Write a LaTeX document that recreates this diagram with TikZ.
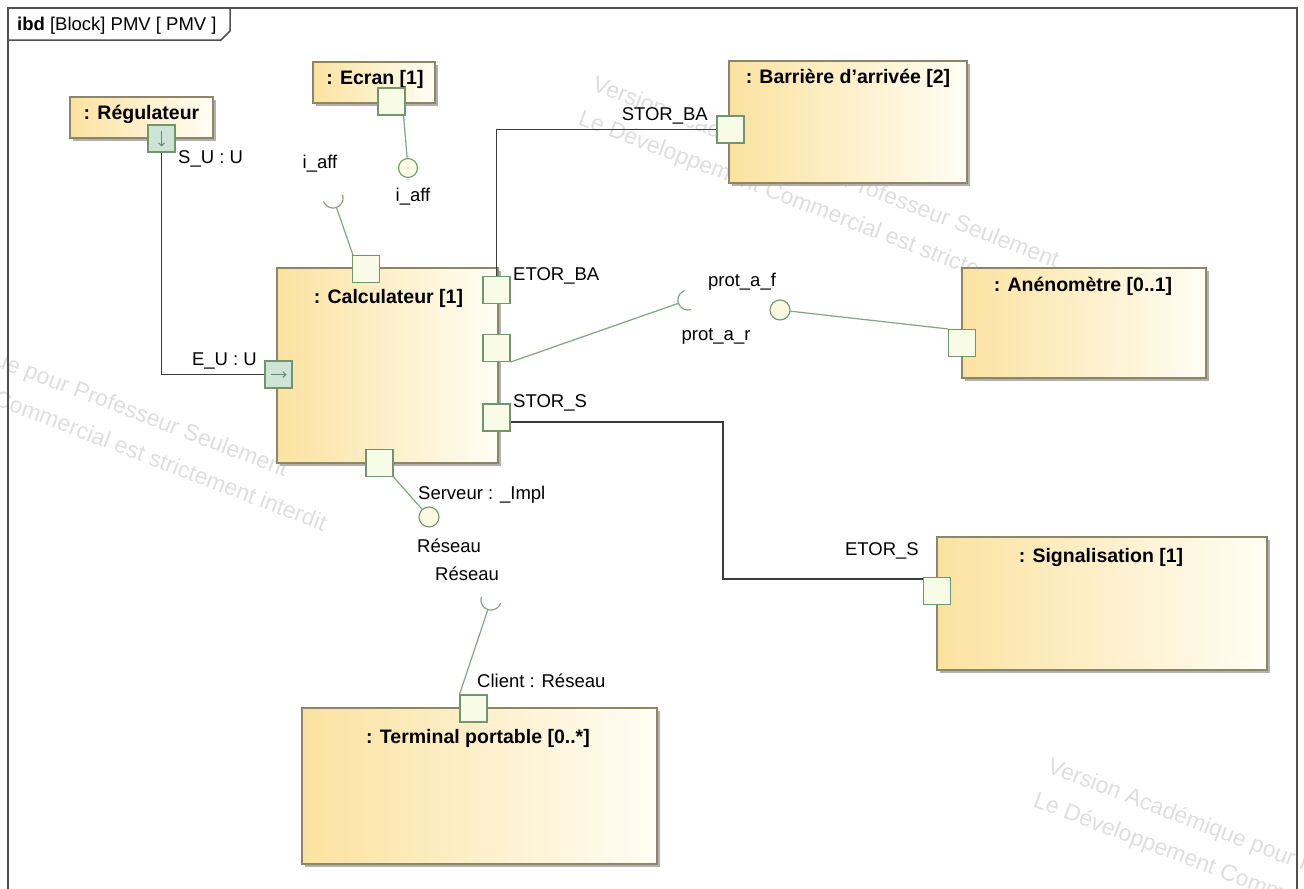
\documentclass[tikz,border=0pt]{standalone}
\usepackage{fontspec}
\setmainfont{Liberation Sans}
\usetikzlibrary{shadows,arrows.meta,calc}

\definecolor{blkL}{RGB}{251,226,160}
\definecolor{blkR}{RGB}{255,253,244}
\definecolor{blkEdge}{RGB}{140,134,104}
\definecolor{blkShadow}{RGB}{178,176,168}
\definecolor{portEdge}{RGB}{112,150,112}
\definecolor{portFill}{RGB}{248,252,230}
\definecolor{flowFill}{RGB}{205,228,214}
\definecolor{flowArrow}{RGB}{96,140,108}
\definecolor{wireCol}{RGB}{60,60,60}
\definecolor{ifaceCol}{RGB}{128,165,128}
\definecolor{ballFill}{RGB}{250,250,224}
\definecolor{frameCol}{RGB}{80,80,80}
\definecolor{wmark}{RGB}{222,222,222}

\tikzset{
  frameline/.style={draw=frameCol, line width=1.5bp},
  block/.style={draw=blkEdge, line width=1.3bp, left color=blkL, right color=blkR, inner sep=0pt,
    drop shadow={shadow xshift=3bp, shadow yshift=-3bp, fill=blkShadow, opacity=1}},
  blocktitle/.style={font=\fontsize{19.5bp}{23bp}\selectfont\bfseries, inner sep=0pt, anchor=base},
  lbl/.style={font=\fontsize{18.5bp}{22bp}\selectfont, inner sep=0pt},
  port/.style={draw=portEdge, fill=portFill, line width=1.1bp, minimum size=27bp, inner sep=0pt},
  flowport/.style={port, fill=flowFill},
  flowarrow/.style={draw=flowArrow, line width=1bp, -{Straight Barb[length=3bp,width=6bp]}},
  ball/.style={circle, draw=portEdge, fill=ballFill, line width=1.1bp, minimum size=20bp, inner sep=0pt},
  wire/.style={draw=wireCol, line width=1.2bp},
  iface/.style={draw=ifaceCol, line width=1.2bp},
  wm/.style={text=wmark, font=\fontsize{23bp}{27bp}\selectfont, inner sep=0pt, rotate=-21, anchor=base west}
}

\begin{document}
\begin{tikzpicture}[x=1bp, y=-1bp]
\useasboundingbox (0,0) rectangle (1304,888);

% licence watermark, repeated behind the diagram
\begin{scope}
  \clip (0,0) rectangle (1304,888);
  \foreach \wx/\wy [count=\i] in {-180/299, 591/90, 1046/772} {
    \node[wm] (wmA\i) at (\wx,\wy) {Version Académique pour Professeur Seulement};
    \node[wm] (wmB\i) at (\wx-14,\wy+34) {Le Développement Commercial est strictement interdit};
  }
\end{scope}

% diagram frame and header tab
\draw[frameline] (8,8) rectangle (1297,892);
\draw[frameline] (8,40) -- (221,40) -- (230,31) -- (230,8);
\node[lbl, anchor=base west] (hdr) at (17,30) {\textbf{ibd} [Block] PMV [ PMV ]};

% part blocks
\node[block, minimum width=143bp, minimum height=41bp] (reg) at (141.5,117.5) {};
\node[block, minimum width=122bp, minimum height=41bp] (ecran) at (374,82.5) {};
\node[block, minimum width=221bp, minimum height=195bp] (calc) at (387.5,365.5) {};
\node[block, minimum width=238bp, minimum height=122bp] (barr) at (848,122) {};
\node[block, minimum width=244bp, minimum height=110bp] (anem) at (1084,323) {};
\node[block, minimum width=330bp, minimum height=133bp] (sig) at (1102,603.5) {};
\node[block, minimum width=355bp, minimum height=156bp] (term) at (479.5,786) {};

\node[blocktitle] (reg-t) at (141.5,119) {: Régulateur};
\node[blocktitle] (ecran-t) at (375,84) {: Ecran [1]};
\node[blocktitle] (calc-t) at (388.5,303) {: Calculateur [1]};
\node[blocktitle] (barr-t) at (848,83) {: Barrière d'arrivée [2]};
\node[blocktitle] (anem-t) at (1083,291) {: Anénomètre [0..1]};
\node[blocktitle] (sig-t) at (1101,562) {: Signalisation [1]};
\node[blocktitle] (term-t) at (478,743) {: Terminal portable [0..*]};

% bend points of the item flows
\coordinate (bendA) at (723,422);
\coordinate (bendB) at (723,579);

% ports
\node[flowport] (su) at (161.5,138.5) {};
\node[flowport] (eu) at (278.5,374.5) {};
\node[port] (ecp) at (391.5,101.5) {};
\node[port] (ctop) at (366,269) {};
\node[port] (etorba) at (496.5,290) {};
\node[port] (cmid) at (496.5,348) {};
\node[port] (stors) at (496.5,417.5) {};
\node[port] (cbot) at (379.5,463) {};
\node[port] (barport) at (730.5,129.5) {};
\node[port] (anport) at (962,343) {};
\node[port] (sigport) at (937,591) {};
\node[port] (termport) at (473.5,708.5) {};

\draw[flowarrow] ($(su)+(0,-8)$) -- ($(su)+(0,8)$);
\draw[flowarrow] ($(eu)+(-8,0)$) -- ($(eu)+(8,0)$);

% provided interfaces
\node[ball, minimum size=19bp] (iaffball) at (408,168) {};
\node[ball] (protball) at (780,310) {};
\node[ball] (servball) at (429,517) {};

% required interfaces (sockets)
\coordinate (sockA) at (333,198);
\coordinate (sockB) at (688,300);
\coordinate (sockC) at (491,600);
\coordinate (sockAend) at ($(sockA)+(70:10)$);
\coordinate (sockBend) at ($(sockB)+(161:10)$);
\coordinate (sockCend) at ($(sockC)+(108:10)$);
\begin{scope}[shift={(sockA)}]
  \draw[iface] plot[domain=-20:160, samples=30] (\x:10);
\end{scope}
\begin{scope}[shift={(sockB)}]
  \draw[iface] plot[domain=71:251, samples=30] (\x:10);
\end{scope}
\begin{scope}[shift={(sockC)}]
  \draw[iface] plot[domain=18:198, samples=30] (\x:10);
\end{scope}

% item flows
\draw[wire] (su) -- (su |- eu) -- (eu);
\draw[wire] (etorba) |- (barport);
\draw[wire] (stors.east |- bendA) -- (bendA) -- (bendB) -- (sigport.west |- bendB);

% interface links
\draw[iface] ($(ecp.south east)+(-2,0)$) -- (iaffball);
\draw[iface] ($(ctop.north west)+(1,0)$) -- (sockAend);
\draw[iface] (cmid.south east) -- (sockBend);
\draw[iface] (protball) -- (anport.north west);
\draw[iface] (cbot.south east) -- (servball);
\draw[iface] (termport.north west) -- (sockCend);

% port and interface labels
\node[lbl, anchor=base west] (l-su) at (178,163) {S\_U : U};
\node[lbl, anchor=base east] (l-eu) at (257,365) {E\_U : U};
\node[lbl, anchor=base] (l-iaff1) at (320,168) {i\_aff};
\node[lbl, anchor=base] (l-iaff2) at (413,201) {i\_aff};
\node[lbl, anchor=base west] (l-etorba) at (513,280) {ETOR\_BA};
\node[lbl, anchor=base west] (l-stors) at (513,407) {STOR\_S};
\node[lbl, anchor=base east, fill=white] (l-storba) at (708,120) {STOR\_BA};
\node[lbl, anchor=base] (l-protf) at (742,286) {prot\_a\_f};
\node[lbl, anchor=base] (l-protr) at (716,340) {prot\_a\_r};
\node[lbl, anchor=base west] (l-serv) at (418,499) {Serveur : \_Impl};
\node[lbl, anchor=base west] (l-res1) at (417,552) {Réseau};
\node[lbl, anchor=base west] (l-res2) at (435,580) {Réseau};
\node[lbl, anchor=base west] (l-client) at (477,687) {Client : Réseau};
\node[lbl, anchor=base east] (l-etors) at (919,555) {ETOR\_S};
\end{tikzpicture}
\end{document}
